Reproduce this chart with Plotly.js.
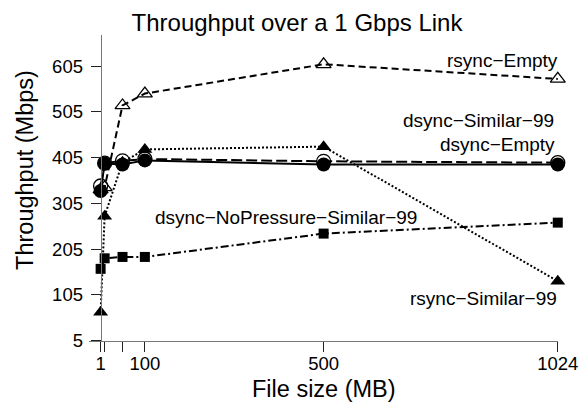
<!DOCTYPE html>
<html>
<head>
<meta charset="utf-8">
<script src="https://cdn.plot.ly/plotly-3.0.1.min.js"></script>
<style>
  html, body { margin: 0; padding: 0; background: #fff; }
  #chart { width: 579px; height: 404px; }
</style>
</head>
<body>
<div id="chart"></div>
<script>
// File sizes (MB)
const fileSizes = [1, 10, 50, 100, 500, 1024];

// Throughput (Mbps) per series
const rsyncEmpty        = [335, 340, 519, 545, 609, 577];
const dsyncSimilar99    = [343, 393, 398, 402, 397, 394];
const rsyncSimilar99    = [67, 277, 395, 423, 429, 135];
const dsyncNoPressure99 = [162, 185, 188, 188, 239, 263];
const dsyncEmpty        = [332, 392, 390, 399, 390, 390];

// Axis ticks
const xTickVals = [1, 10, 50, 100, 500, 1024];
const xTickText = ["1", "", "", "100", "500", "1024"];
const yTickVals = [5, 105, 205, 305, 405, 505, 605];
const yTickText = ["5", "105", "205", "305", "405", "505", "605"];

// Series labels
const labels = {
  rsyncEmpty: "rsync\u2212Empty",
  dsyncSimilar: "dsync\u2212Similar\u221299",
  dsyncEmpty: "dsync\u2212Empty",
  noPressure: "dsync\u2212NoPressure\u2212Similar\u221299",
  rsyncSimilar: "rsync\u2212Similar\u221299"
};

const FONT = "Liberation Sans, Arial, Helvetica, sans-serif";

function trace(y, name, symbol, size, dash, mline) {
  return {
    x: fileSizes, y: y, name: name, type: "scatter", mode: "lines+markers",
    cliponaxis: false,
    line: { color: "#000", width: 2, dash: dash },
    marker: { symbol: symbol, size: size, color: "#000",
              line: { color: "#000", width: mline } }
  };
}

const data = [
  trace(rsyncEmpty, labels.rsyncEmpty, "triangle-up-open", 13, "7px,4px", 1.3),
  trace(dsyncNoPressure99, labels.noPressure, "square", 10, "8px,3px,2px,3px", 0),
  trace(rsyncSimilar99, labels.rsyncSimilar, "triangle-up", 13, "2px,2px", 0),
  trace(dsyncSimilar99, labels.dsyncSimilar, "circle-open", 14, "11px,4px", 1.3),
  trace(dsyncEmpty, labels.dsyncEmpty, "circle", 14, "solid", 0)
];

function ann(text, x, xref, y, xanchor) {
  return { text: text, x: x, y: y, xref: xref, yref: "y", xanchor: xanchor,
           yanchor: "middle", showarrow: false,
           font: { family: FONT, size: 19, color: "#000" } };
}

const layout = {
  width: 579, height: 404,
  margin: { l: 89, r: 21, t: 35, b: 63, pad: 0 },
  paper_bgcolor: "#fff", plot_bgcolor: "#fff",
  showlegend: false,
  font: { family: FONT, color: "#000", size: 18 },
  title: {
    text: "Throughput over a 1 Gbps Link",
    font: { family: FONT, size: 24, color: "#000" },
    x: 0.513, xanchor: "center", xref: "container",
    y: 0.943, yanchor: "middle", yref: "container"
  },
  xaxis: {
    range: [-25, 1024.5],
    tickvals: xTickVals, ticktext: xTickText,
    ticks: "outside", ticklen: 10, tickwidth: 1, tickcolor: "#222",
    ticklabelstandoff: -4,
    showline: true, linecolor: "#777", linewidth: 1,
    showgrid: false, zeroline: false,
    tickfont: { family: FONT, size: 18.5, color: "#000" }
  },
  yaxis: {
    range: [4.3, 673],
    anchor: "free", position: 0.0249,
    tickvals: yTickVals, ticktext: yTickText,
    ticks: "outside", ticklen: 10, tickwidth: 1, tickcolor: "#222",
    ticklabelstandoff: 4,
    showline: true, linecolor: "#777", linewidth: 1,
    showgrid: false, zeroline: false,
    tickfont: { family: FONT, size: 18.5, color: "#000" }
  },
  annotations: [
    ann(labels.rsyncEmpty, 1.0043, "paper", 618, "right"),
    ann(labels.dsyncSimilar, 0.9957, "paper", 487, "right"),
    ann(labels.dsyncEmpty, 0.9979, "paper", 434, "right"),
    ann(labels.noPressure, 118, "x", 274, "left"),
    ann(labels.rsyncSimilar, 1.002, "paper", 97, "right"),
    { text: "Throughput (Mbps)", textangle: -90, showarrow: false,
      xref: "paper", yref: "paper", x: -0.1365, y: 0.559,
      xanchor: "center", yanchor: "middle",
      font: { family: FONT, size: 23.5, color: "#000" } },
    { text: "File size (MB)", showarrow: false,
      xref: "paper", yref: "paper", x: 0.5, y: -0.2026,
      xanchor: "center", yanchor: "bottom", borderpad: 0,
      font: { family: FONT, size: 23.5, color: "#000" } }
  ]
};

Plotly.newPlot("chart", data, layout, { displayModeBar: false, staticPlot: true });
</script>
</body>
</html>
